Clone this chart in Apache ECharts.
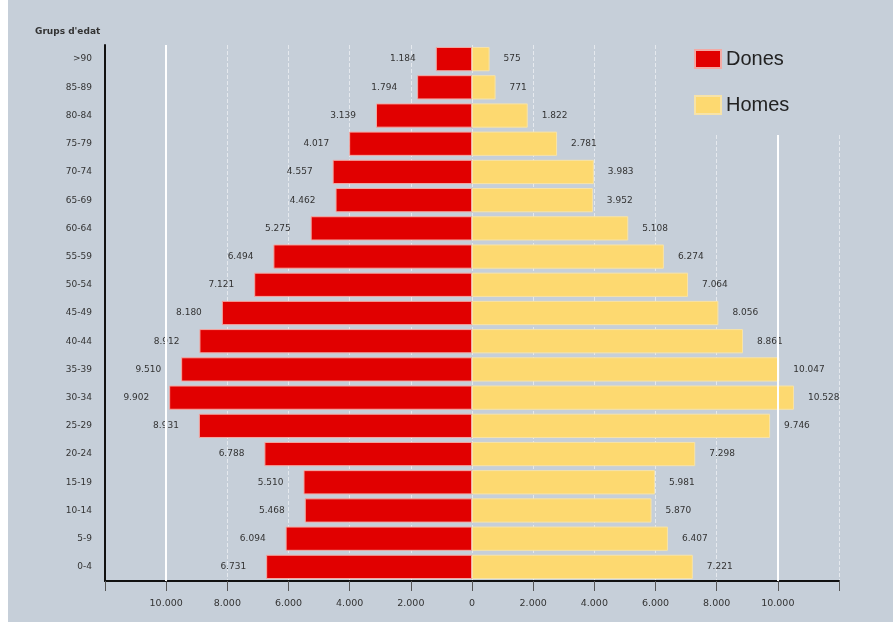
<!DOCTYPE html>
<html>
<head>
<meta charset="utf-8">
<script src="https://cdn.jsdelivr.net/npm/echarts@6/dist/echarts.min.js"></script>
<style>
html,body{margin:0;padding:0;background:#ffffff;width:893px;height:633px;overflow:hidden;}
#chart{position:absolute;left:8px;top:0;width:885px;height:622px;}
</style>
</head>
<body>
<div id="chart"></div>
<script>
var categories = ['0-4','5-9','10-14','15-19','20-24','25-29','30-34','35-39','40-44','45-49','50-54','55-59','60-64','65-69','70-74','75-79','80-84','85-89','>90'];
var dones = [6731, 6094, 5468, 5510, 6788, 8931, 9902, 9510, 8912, 8180, 7121, 6494, 5275, 4462, 4557, 4017, 3139, 1794, 1184];
var homes = [7221, 6407, 5870, 5981, 7298, 9746, 10528, 10047, 8861, 8056, 7064, 6274, 5108, 3952, 3983, 2781, 1822, 771, 575];
var xTicks = [-10000, -8000, -6000, -4000, -2000, 0, 2000, 4000, 6000, 8000, 10000];

function fmt(v){
  return Math.abs(v).toString().replace(/\B(?=(\d{3})+(?!\d))/g, '.');
}

var chart = echarts.init(document.getElementById('chart'));
var font = 'DejaVu Sans';
var bg = '#c6cfd9';
chart.setOption({
  backgroundColor: bg,
  animation: false,
  textStyle: {fontFamily: font},
  title: {
    text: "Grups d'edat",
    left: 22, top: 22,
    textStyle: {fontSize: 9, fontWeight: 'bold', color: '#333', fontFamily: font}
  },
  legend: {
    orient: 'vertical',
    left: 674, top: 41,
    padding: [8, 60, 20, 12],
    backgroundColor: bg,
    itemWidth: 26, itemHeight: 18, itemGap: 26,
    icon: 'rect',
    textStyle: {fontSize: 20, color: '#222', fontFamily: 'Liberation Sans'},
    data: ['Dones', 'Homes'],
    z: 6
  },
  grid: {left: 97, right: 54, top: 45, bottom: 41, containLabel: false},
  xAxis: {
    type: 'value',
    min: -12000, max: 12000, interval: 2000,
    axisLine: {show: true, lineStyle: {color: '#111', width: 2}},
    axisTick: {show: true, length: 10, lineStyle: {color: '#555'}},
    axisLabel: {
      margin: 18, fontSize: 9.5, color: '#333',
      formatter: function(v){ return xTicks.indexOf(v) >= 0 ? fmt(v) : ''; }
    },
    splitLine: {show: true, lineStyle: {color: 'rgba(255,255,255,0.55)', type: 'dashed', width: 1}}
  },
  yAxis: {
    type: 'category',
    data: categories,
    axisLine: {show: true, onZero: false, lineStyle: {color: '#111', width: 2}},
    axisTick: {show: false},
    axisLabel: {margin: 13, fontSize: 9, color: '#333'},
    splitLine: {show: false}
  },
  series: [
    {
      name: 'Dones',
      type: 'bar',
      stack: 'pop',
      barCategoryGap: '14%',
      data: dones.map(function(v){ return -v; }),
      itemStyle: {color: '#e10000', borderColor: '#f3a9a4', borderWidth: 1},
      label: {
        show: true, position: 'left', distance: 20,
        fontSize: 9, color: '#333',
        formatter: function(p){ return fmt(p.value); }
      },
      markLine: {
        silent: true, symbol: 'none', label: {show: false},
        lineStyle: {color: '#ffffff', type: 'solid', width: 2},
        data: [{xAxis: -10000}, {xAxis: 10000}]
      },
      z: 3
    },
    {
      name: 'Homes',
      type: 'bar',
      stack: 'pop',
      barCategoryGap: '14%',
      data: homes,
      itemStyle: {color: '#fdd970', borderColor: '#f7e3a8', borderWidth: 1},
      label: {
        show: true, position: 'right', distance: 14,
        fontSize: 9, color: '#333',
        formatter: function(p){ return fmt(p.value); }
      },
      z: 3
    }
  ]
});
</script>
</body>
</html>
